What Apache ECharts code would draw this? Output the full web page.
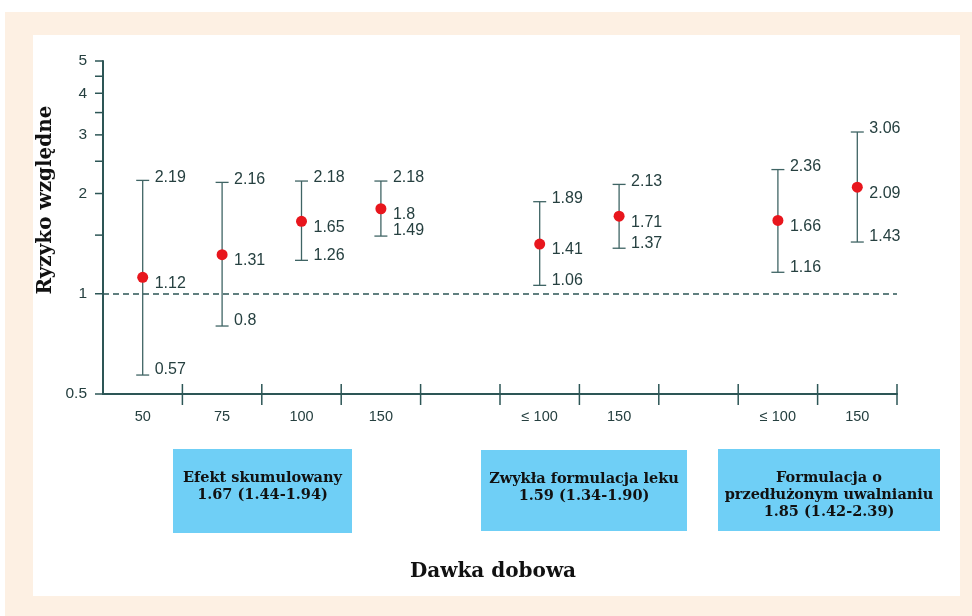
<!DOCTYPE html>
<html lang="pl">
<head>
    <meta charset="UTF-8"/>
    <title>Ryzyko względne</title>
    <script src="https://cdn.jsdelivr.net/npm/echarts@6/dist/echarts.min.js"></script>
    <style>
        html, body { margin: 0; padding: 0; background: #fff; }
    </style>
</head>
<body>
<div id="main" style="width: 972px;height: 616px;"></div>
<script type="text/javascript">
    // dane z wykresu
    var categories = ['50', '75', '100', '150', '', '≤ 100', '150', '', '≤ 100', '150'];
    var estimates = [1.12, 1.31, 1.65, 1.8, null, 1.41, 1.71, null, 1.66, 2.09];
    var lowerCI = [0.57, 0.8, 1.26, 1.49, null, 1.06, 1.37, null, 1.16, 1.43];
    var upperCI = [2.19, 2.16, 2.18, 2.18, null, 1.89, 2.13, null, 2.36, 3.06];
    var yTicks = [0.5, 1, 1.5, 2, 2.5, 3, 3.5, 4, 4.5, 5];
    var yTickLabels = ['0.5', '1', '', '2', '', '3', '', '4', '', '5'];

    var axisColor = '#2d5656';
    var textColor = '#264040';
    var labelFont = '16px "Liberation Sans", Arial, sans-serif';
    var yLabelFont = '15.5px "Liberation Sans", Arial, sans-serif';
    var serifBold = 'bold 14.5px "DejaVu Serif", serif';

    var errData = [];
    var dotData = [];
    for (var i = 0; i < categories.length; i++) {
        if (estimates[i] == null) continue;
        errData.push([i, lowerCI[i], upperCI[i], estimates[i]]);
        dotData.push([i, estimates[i]]);
    }
    var tickData = yTicks.map(function (v) { return [0, v]; });
    // prawe granice kategorii na osi X (kreski przecinające oś)
    var xBoundData = [];
    for (var b = 0; b < categories.length; b++) xBoundData.push([b, 0.5]);

    var myChart = echarts.init(document.getElementById('main'));

    function boxGraphic(x, y, w, h, lines) {
        return {
            type: 'group',
            children: [
                {type: 'rect', shape: {x: x, y: y, width: w, height: h}, style: {fill: '#6fcff6'}},
                {
                    type: 'text',
                    style: {
                        x: x + w / 2, y: y + 21,
                        text: lines.join('\n'),
                        font: serifBold, fill: '#111',
                        align: 'center', verticalAlign: 'top', lineHeight: 17
                    }
                }
            ]
        };
    }

    myChart.setOption({
        animation: false,
        backgroundColor: '#fff',
        grid: {left: 103, right: 75, top: 61, bottom: 222},
        graphic: [
            {type: 'rect', z: -10, shape: {x: 5, y: 12, width: 967, height: 604}, style: {fill: '#fdf0e3'}},
            {type: 'rect', z: -9, shape: {x: 33, y: 35, width: 927, height: 561}, style: {fill: '#fff'}},
            {
                type: 'text', x: 46, y: 200, rotation: Math.PI / 2,
                style: {
                    text: 'Ryzyko względne', font: 'bold 20px "DejaVu Serif", serif', fill: '#111',
                    align: 'center', verticalAlign: 'middle'
                }
            },
            {
                type: 'text', x: 493, y: 572,
                style: {
                    text: 'Dawka dobowa', font: 'bold 20px "DejaVu Serif", serif', fill: '#111',
                    align: 'center', verticalAlign: 'middle'
                }
            },
            boxGraphic(173, 449, 179, 84, ['Efekt skumulowany', '1.67 (1.44-1.94)']),
            boxGraphic(481, 450, 206, 81, ['Zwykła formulacja leku', '1.59 (1.34-1.90)']),
            boxGraphic(718, 449, 222, 82, ['Formulacja o', 'przedłużonym uwalnianiu', '1.85 (1.42-2.39)'])
        ],
        xAxis: {
            type: 'category',
            data: categories,
            axisLine: {lineStyle: {color: axisColor, width: 2}},
            axisTick: {show: false},
            axisLabel: {color: textColor, fontSize: 14.5, fontFamily: 'Liberation Sans', margin: 15},
            splitLine: {show: false}
        },
        yAxis: {
            type: 'log',
            min: 0.5,
            max: 5,
            axisLine: {show: true, lineStyle: {color: axisColor, width: 2}},
            axisTick: {show: false},
            axisLabel: {show: false},
            splitLine: {show: false}
        },
        series: [{
            // podziałka osi Y
            type: 'custom',
            clip: false,
            silent: true,
            data: tickData,
            renderItem: function (params, api) {
                var y = api.coord([0, api.value(1)])[1];
                var x0 = params.coordSys.x;
                var children = [{
                    type: 'line',
                    shape: {x1: x0 - 8, y1: y, x2: x0, y2: y},
                    style: {stroke: axisColor, lineWidth: 1.5}
                }];
                var lab = yTickLabels[params.dataIndex];
                if (lab) {
                    children.push({
                        type: 'text',
                        style: {x: x0 - 16, y: y, text: lab, font: yLabelFont, fill: textColor,
                            align: 'right', verticalAlign: 'middle'}
                    });
                }
                return {type: 'group', children: children};
            }
        }, {
            // kreski podziałki osi X
            type: 'custom',
            clip: false,
            silent: true,
            data: xBoundData,
            renderItem: function (params, api) {
                var p = api.coord([api.value(0), api.value(1)]);
                var x = p[0] + api.size([1, 0])[0] / 2;
                return {
                    type: 'line',
                    shape: {x1: x, y1: p[1] - 10, x2: x, y2: p[1] + 11},
                    style: {stroke: axisColor, lineWidth: 1.5}
                };
            }
        }, {
            // przedziały ufności
            type: 'custom',
            clip: false,
            silent: true,
            data: errData,
            renderItem: function (params, api) {
                var idx = api.value(0);
                var lo = api.value(1), hi = api.value(2), est = api.value(3);
                var pLo = api.coord([idx, lo]);
                var pHi = api.coord([idx, hi]);
                var pEst = api.coord([idx, est]);
                var x = pLo[0];
                var cap = 6.5;
                var stroke = {stroke: '#3f6464', lineWidth: 1.3};
                function txt(v, y) {
                    return {
                        type: 'text',
                        style: {x: x + 12, y: y, text: String(v), font: labelFont, fill: textColor,
                            align: 'left', verticalAlign: 'middle'}
                    };
                }
                return {
                    type: 'group',
                    children: [
                        {type: 'line', shape: {x1: x, y1: pLo[1], x2: x, y2: pHi[1]}, style: stroke},
                        {type: 'line', shape: {x1: x - cap, y1: pLo[1], x2: x + cap, y2: pLo[1]}, style: stroke},
                        {type: 'line', shape: {x1: x - cap, y1: pHi[1], x2: x + cap, y2: pHi[1]}, style: stroke},
                        txt(hi, pHi[1] - 3),
                        txt(est, pEst[1] + 6),
                        txt(lo, pLo[1] - 5)
                    ]
                };
            }
        }, {
            type: 'scatter',
            data: dotData,
            symbolSize: 11,
            z: 5,
            itemStyle: {color: '#e8161d', opacity: 1},
            markLine: {
                silent: true,
                symbol: 'none',
                label: {show: false},
                lineStyle: {color: axisColor, type: [6, 4], width: 1.5},
                data: [{yAxis: 1}]
            }
        }]
    });
</script>
</body>
</html>
